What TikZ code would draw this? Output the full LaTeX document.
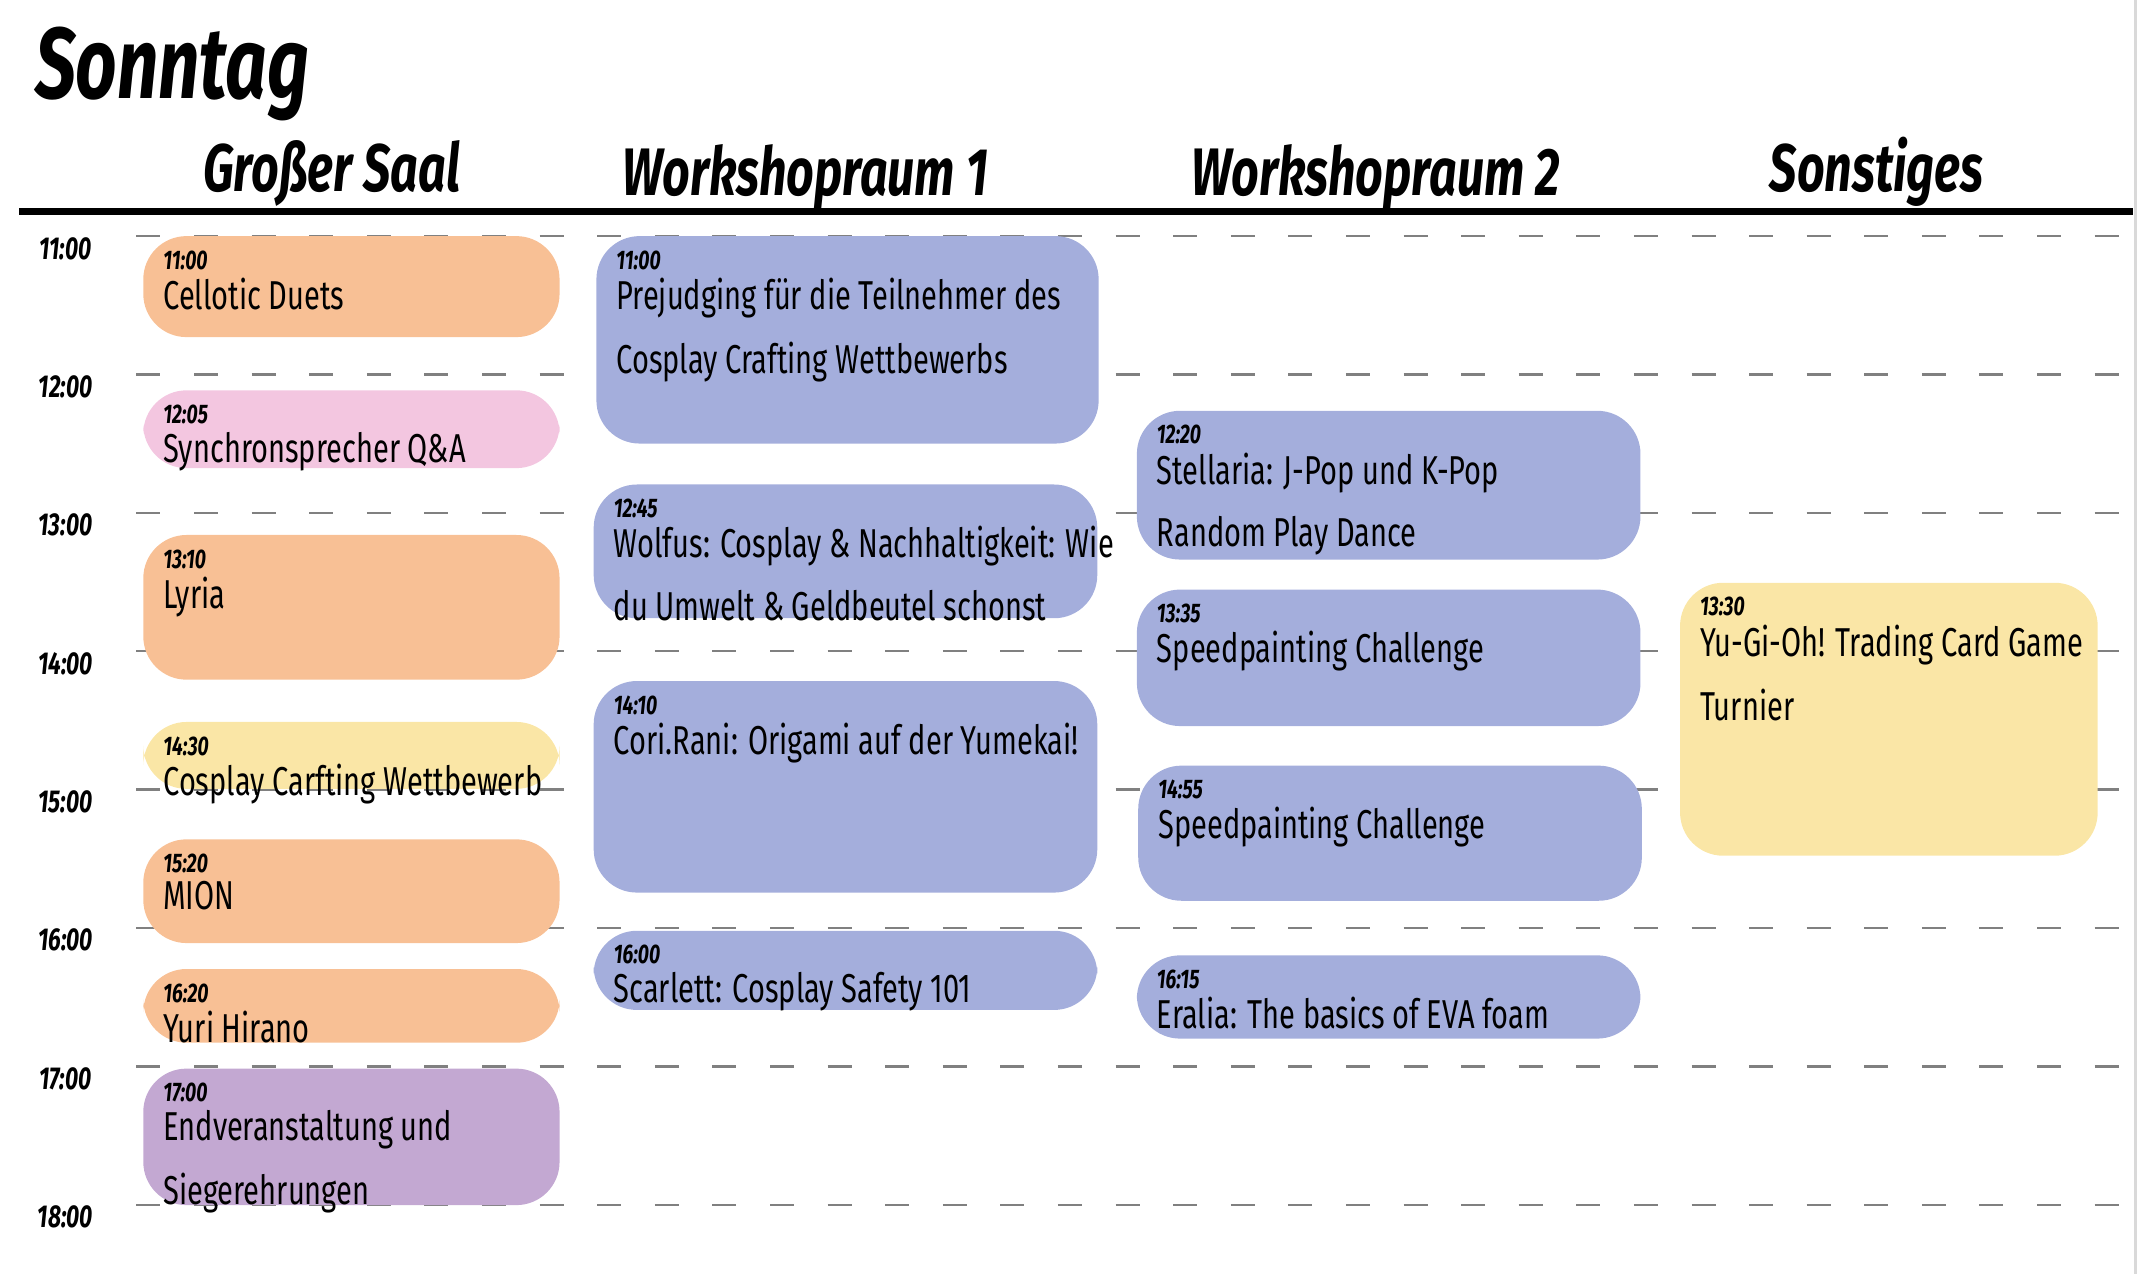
\documentclass[tikz,border=0pt]{standalone}
\usepackage{fontspec}
\setmainfont[FakeStretch=0.72]{Fira Sans}
\usetikzlibrary{positioning}
\definecolor{talk}{HTML}{F8C095}
\definecolor{guest}{HTML}{F3C6E0}
\definecolor{contest}{HTML}{FAE6A6}
\definecolor{work}{HTML}{A4AEDC}
\definecolor{finale}{HTML}{C3A8D2}
\tikzstyle{slot} = [rounded corners=9pt]
\tikzstyle{stime} = [anchor=north west, inner sep=0pt, font=\fontsize{5.6}{6}\selectfont\bfseries\itshape]
\tikzstyle{stitle} = [anchor=north west, inner sep=0pt, align=left, font=\fontsize{8.4}{8}\selectfont]
\tikzstyle{room} = [font=\fontsize{14}{16}\selectfont\bfseries\itshape, anchor=base]
\tikzstyle{hour} = [font=\fontsize{6.6}{7}\selectfont\bfseries\itshape]
\tikzstyle{grid} = [gray, dash pattern=on 5pt off 7pt, line width=0.5pt]
% one event box: name, x1, y1, x2, y2, colour, time, text
\newcommand{\event}[8]{%
  \fill [slot, #6] (#2,#3) rectangle (#4,#5);
  \node [stime] (#1_t) at ([shift={(14,10)}]#2,#3) {#7};
  \node [stitle] (#1) at ([shift={(14,30)}]#2,#3) {#8};
}
\begin{document}
\begin{tikzpicture}[x=0.01cm, y=-0.01cm]
        \useasboundingbox (0,0) rectangle (1568,933.5);
        % heading
        \node [anchor=base west, inner sep=0pt, font=\fontsize{21}{24}\selectfont\bfseries\itshape] (day) at (25,72) {Sonntag};
        \node [room] (saal) at (243,140) {Großer Saal};
        \node [room] (ws1) at (590,143) {Workshopraum 1};
        \node [room] (ws2) at (1008,143) {Workshopraum 2};
        \node [room] (misc) at (1375,140) {Sonstiges};
        \draw [line width=1.6pt] (14,155) -- (1563,155);
        \draw [black!15, line width=0.6pt] (1565,0) -- (1565,933.5);

        % hour grid
        \foreach \h [count=\i from 0] in {11,...,18} {
          \draw [grid] (100,173+101.4*\i) -- (1568,173+101.4*\i);
          \node [hour] (h\h) at (48,182+101.4*\i) {\h:00};
        }

        % Großer Saal
        \event{cello}{105}{173}{410}{247}{talk}{11:00}{Cellotic Duets}
        \event{synchro}{105}{286}{410}{343}{guest}{12:05}{Synchronsprecher Q\&A}
        \event{lyria}{105}{392}{410}{498}{talk}{13:10}{Lyria}
        \event{carft}{105}{529}{410}{578}{contest}{14:30}{Cosplay Carfting Wettbewerb}
        \event{mion}{105}{615}{410}{691}{talk}{15:20}{MION}
        \event{yuri}{105}{710}{410}{764}{talk}{16:20}{Yuri Hirano}
        \event{ende}{105}{783}{410}{883}{finale}{17:00}{Endveranstaltung und\\[4pt]Siegerehrungen}

        % Workshopraum 1
        \event{prejudge}{437}{173}{805}{325}{work}{11:00}{Prejudging für die Teilnehmer des\\[4pt]Cosplay Crafting Wettbewerbs}
        \event{wolfus}{435}{355}{804}{453}{work}{12:45}{Wolfus: Cosplay \& Nachhaltigkeit: Wie\\[4pt]du Umwelt \& Geldbeutel schonst}
        \event{origami}{435}{499}{804}{654}{work}{14:10}{Cori.Rani: Origami auf der Yumekai!}
        \event{safety}{435}{682}{804}{740}{work}{16:00}{Scarlett: Cosplay Safety 101}

        % Workshopraum 2
        \event{stellaria}{833}{301}{1202}{410}{work}{12:20}{Stellaria: J-Pop und K-Pop\\[4pt]Random Play Dance}
        \event{speedA}{833}{432}{1202}{532}{work}{13:35}{Speedpainting Challenge}
        \event{speedB}{834}{561}{1203}{660}{work}{14:55}{Speedpainting Challenge}
        \event{eva}{833}{700}{1202}{761}{work}{16:15}{Eralia: The basics of EVA foam}

        % Sonstiges
        \event{yugioh}{1231}{427}{1537}{627}{contest}{13:30}{Yu-Gi-Oh! Trading Card Game\\[4pt]Turnier}
    \end{tikzpicture}
\end{document}
